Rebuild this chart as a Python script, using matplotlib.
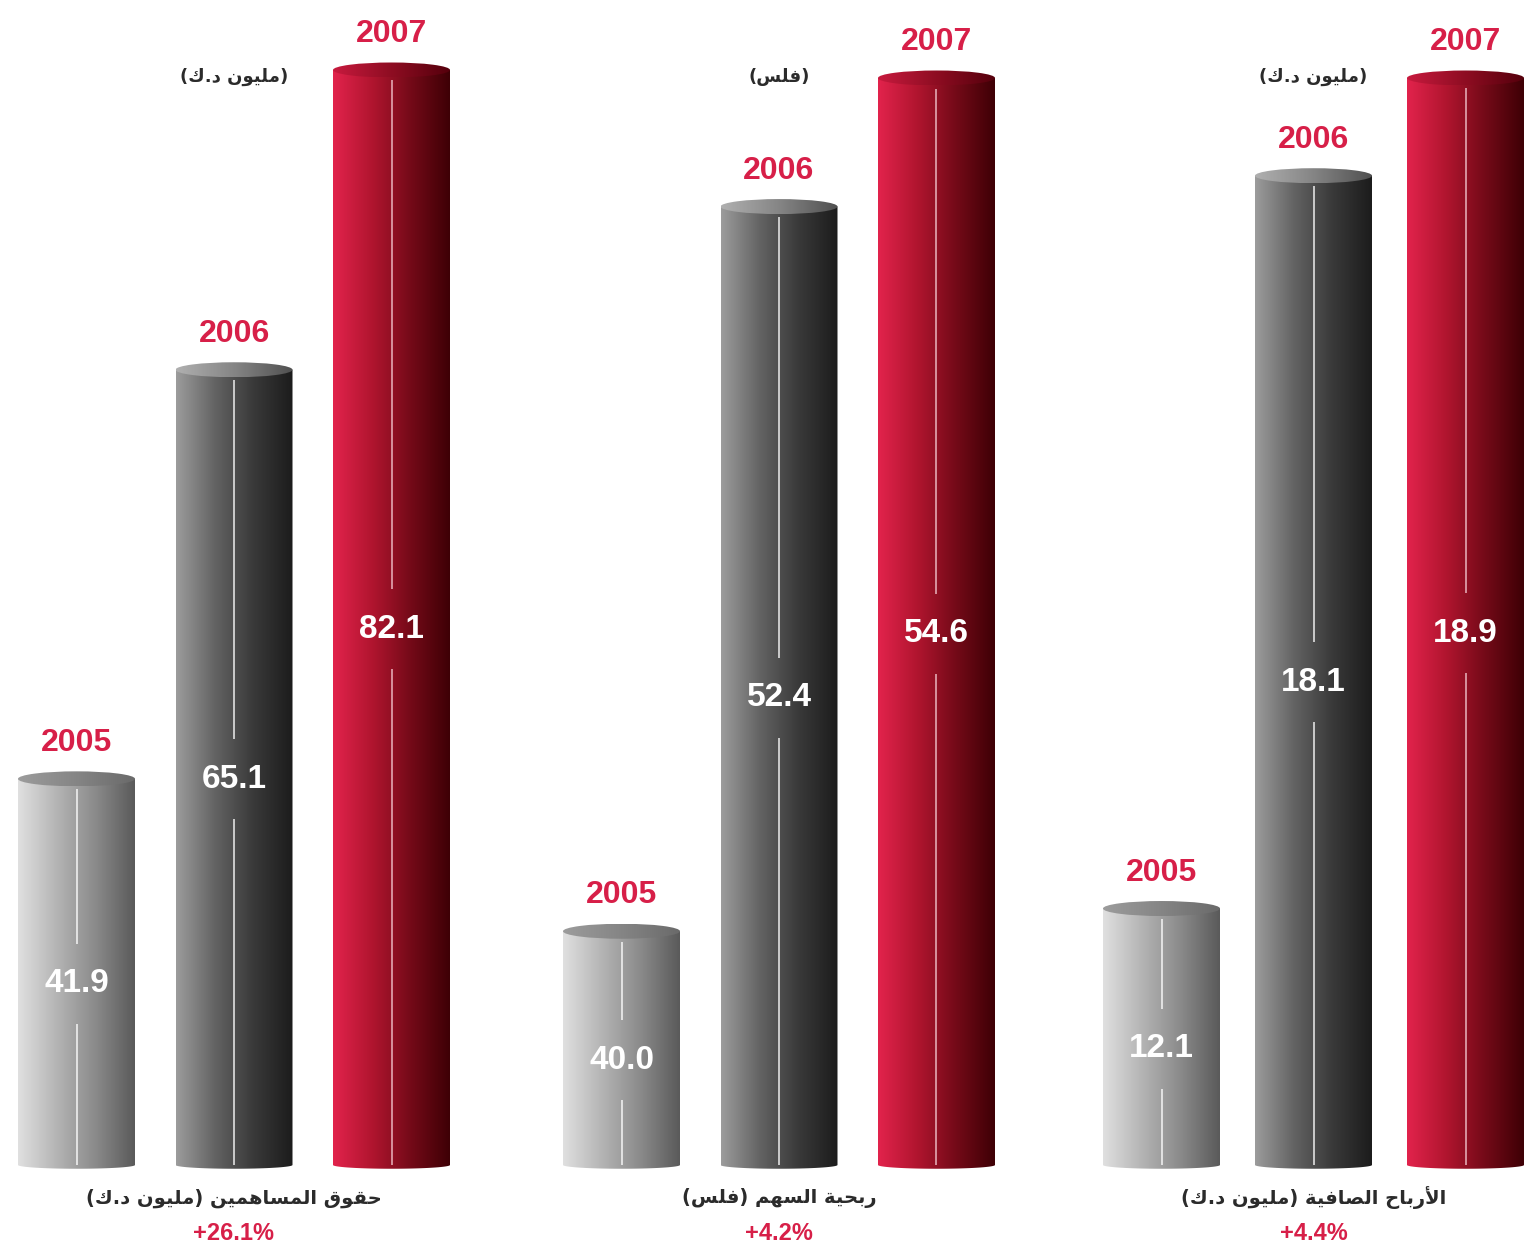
import numpy as np
import matplotlib
matplotlib.use("Agg")
import matplotlib.pyplot as plt
from matplotlib.colors import LinearSegmentedColormap
from matplotlib.patches import Ellipse, Polygon

# data
years = ["2005", "2006", "2007"]
equity = [41.9, 65.1, 82.1]        # حقوق المساهمين
eps = [40.0, 52.4, 54.6]           # ربحية السهم
net_profit = [12.1, 18.1, 18.9]    # الأرباح الصافية
titles = ["حقوق المساهمين (مليون د.ك)", "ربحية السهم (فلس)", "الأرباح الصافية (مليون د.ك)"]
units = ["(مليون د.ك)", "(فلس)", "(مليون د.ك)"]
growth = ["+26.1%", "+4.2%", "+4.4%"]

W, H = 1538, 1247
RED = "#d71f48"
NUM_FONT = ["Liberation Sans", "DejaVu Sans"]
AR_FONT = ["DejaVu Sans"]

# arabic presentation forms: isolated, final, initial, medial
FORMS = {
    "ا": "\uFE8D\uFE8E", "أ": "\uFE83\uFE84", "ب": "\uFE8F\uFE90\uFE91\uFE92",
    "ة": "\uFE93\uFE94", "ح": "\uFEA1\uFEA2\uFEA3\uFEA4", "د": "\uFEA9\uFEAA",
    "ر": "\uFEAD\uFEAE", "س": "\uFEB1\uFEB2\uFEB3\uFEB4", "ص": "\uFEB9\uFEBA\uFEBB\uFEBC",
    "ف": "\uFED1\uFED2\uFED3\uFED4", "ق": "\uFED5\uFED6\uFED7\uFED8", "ك": "\uFED9\uFEDA\uFEDB\uFEDC",
    "ل": "\uFEDD\uFEDE\uFEDF\uFEE0", "م": "\uFEE1\uFEE2\uFEE3\uFEE4", "ن": "\uFEE5\uFEE6\uFEE7\uFEE8",
    "ه": "\uFEE9\uFEEA\uFEEB\uFEEC", "و": "\uFEED\uFEEE", "ي": "\uFEF1\uFEF2\uFEF3\uFEF4",
}
LAM_ALEF = {"ا": "\uFEFB\uFEFC", "أ": "\uFEF7\uFEF8"}


def shape_ar(text):
    out = []
    i = 0
    while i < len(text):
        c = text[i]
        if c not in FORMS:
            out.append(c)
            i += 1
            continue
        prev = text[i - 1] if i > 0 else ""
        p = len(FORMS.get(prev, "")) == 4
        nxt = text[i + 1] if i + 1 < len(text) else ""
        if c == "ل" and nxt in LAM_ALEF:
            out.append(LAM_ALEF[nxt][1 if p else 0])
            i += 2
            continue
        n = len(FORMS[c]) == 4 and nxt in FORMS
        f = FORMS[c]
        if p and n:
            g = f[3]
        elif p:
            g = f[1]
        elif n:
            g = f[2]
        else:
            g = f[0]
        out.append(g)
        i += 1
    vis = "".join(reversed(out))
    return vis.translate(str.maketrans("()", ")("))


body_cmaps = [
    LinearSegmentedColormap.from_list("g1", ["#e0e0e0", "#b4b4b4", "#8a8a8a", "#5a5a5a"]),
    LinearSegmentedColormap.from_list("g2", ["#9c9c9c", "#636363", "#393939", "#1c1c1c"]),
    LinearSegmentedColormap.from_list("r1", ["#e2234c", "#b1152f", "#740a18", "#3e0005"]),
]
cap_cmaps = [
    LinearSegmentedColormap.from_list("c1", ["#9c9c9c", "#858585", "#6a6a6a"]),
    LinearSegmentedColormap.from_list("c2", ["#b0b0b0", "#858585", "#505050"]),
    LinearSegmentedColormap.from_list("c3", ["#c81a3e", "#8e0d22", "#55000c"]),
]
grad = np.linspace(0, 1, 256).reshape(1, -1)

fig = plt.figure(figsize=(W / 100, H / 100), dpi=100)
fig.patch.set_facecolor("white")

panels = [equity, eps, net_profit]
# layout per panel: middle bar centre (px), bar spacing (px), baseline value, top px of tallest bar
mids = [234, 779, 1313.5]
spacing = [157.5, 157.5, 152]
bases = [20.0, 36.0, 10.0]
top_px = [70, 78, 78]
BASE_PX = 1165
AX_BOTTOM_PX = 1185
BAR_PX = 117
CAP_PX = 15

for k, vals in enumerate(panels):
    left = mids[k] - 1.5 * spacing[k]
    width = 3 * spacing[k]
    ax = fig.add_axes([left / W, 1 - AX_BOTTOM_PX / H, width / W, AX_BOTTOM_PX / H])
    ax.set_axis_off()
    a = (BASE_PX - top_px[k]) / (max(vals) - bases[k])  # px per unit
    lo = bases[k] - (AX_BOTTOM_PX - BASE_PX) / a
    hi = bases[k] + BASE_PX / a
    ax.set_xlim(-0.5, 2.5)
    ax.set_ylim(lo, hi)
    bw = BAR_PX / spacing[k]
    eh = CAP_PX / a
    base = bases[k]

    for i, v in enumerate(vals):
        x0, x1 = i - bw / 2, i + bw / 2
        # body with slightly rounded bottom
        t = np.linspace(np.pi, 2 * np.pi, 40)
        verts = [(x0, v)] + list(zip(i + bw / 2 * np.cos(t), base + eh / 4 * np.sin(t))) + [(x1, v)]
        body = Polygon(verts, closed=True, facecolor="none", edgecolor="none")
        ax.add_patch(body)
        im = ax.imshow(grad, cmap=body_cmaps[i], extent=(x0, x1, base - eh, v),
                       aspect="auto", interpolation="bilinear", zorder=2)
        im.set_clip_path(body)
        # top cap
        cap = Ellipse((i, v), bw, eh, facecolor="none", edgecolor="none")
        ax.add_patch(cap)
        imc = ax.imshow(grad, cmap=cap_cmaps[i], extent=(x0, x1, v - eh / 2, v + eh / 2),
                        aspect="auto", interpolation="bilinear", zorder=3)
        imc.set_clip_path(cap)

        # centre line with gap around value
        ly = (base + v) / 2 - 12 / a
        gap = 40 / a
        lc = "white" if i < 2 else "#f3c7cf"
        ax.plot([i, i], [base, ly - gap], color=lc, lw=1.1, alpha=0.9, zorder=4, solid_capstyle="butt")
        ax.plot([i, i], [ly + gap, v - eh / 2 - 3 / a], color=lc, lw=1.1, alpha=0.9, zorder=4,
                solid_capstyle="butt")
        ax.text(i, ly, f"{v:.1f}", ha="center", va="center", color="white", fontsize=24,
                fontweight="bold", family=NUM_FONT, zorder=5)
        ax.annotate(years[i], xy=(i, v), xytext=(0, 36), textcoords="offset pixels",
                    ha="center", va="center", color=RED, fontsize=23, fontweight="bold",
                    family=NUM_FONT, annotation_clip=False)

    cx = mids[k] / W
    fig.text(cx, 1 - 77 / H, shape_ar(units[k]), ha="center", va="center", fontsize=13,
             fontweight="bold", color="#2b2b2b", family=AR_FONT)
    fig.text(cx, 1 - 1198 / H, shape_ar(titles[k]), ha="center", va="center", fontsize=14,
             fontweight="bold", color="#2b2b2b", family=AR_FONT)
    fig.text(cx, 1 - 1233 / H, growth[k], ha="center", va="center", fontsize=17,
             fontweight="bold", color=RED, family=NUM_FONT)

fig.savefig("out.png", dpi=100, facecolor="white")
